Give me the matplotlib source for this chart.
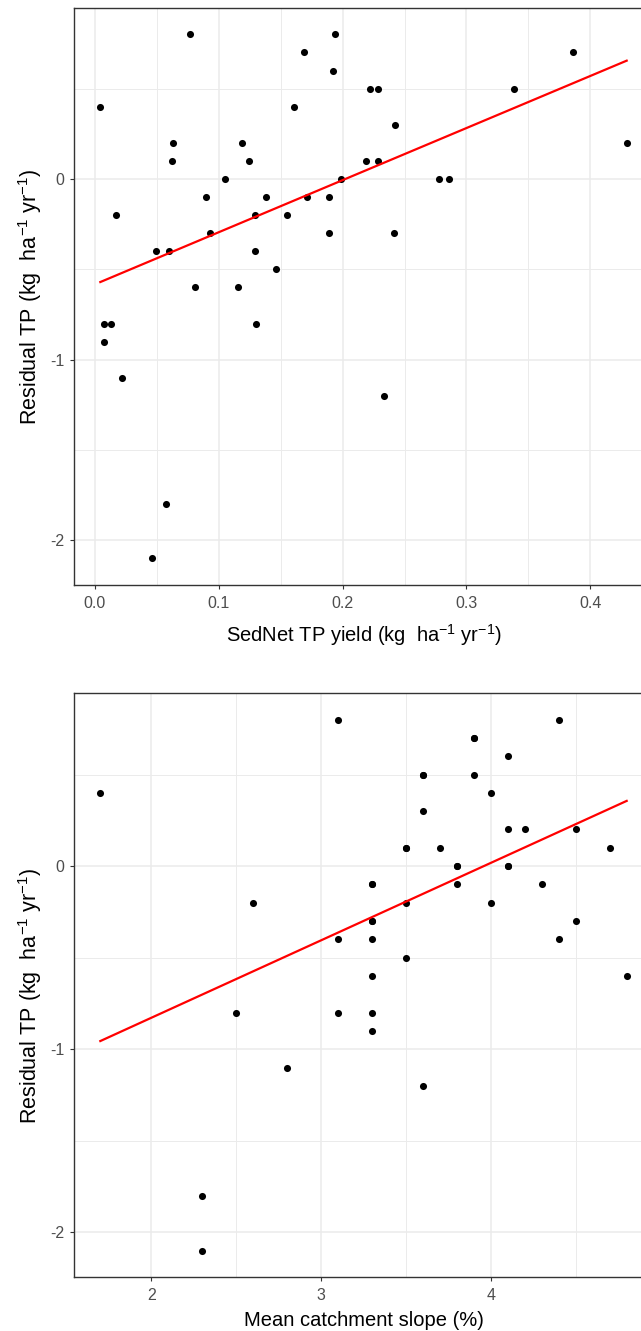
import matplotlib.pyplot as plt
import numpy as np

plt.rcParams['font.family'] = ['Liberation Sans', 'DejaVu Sans']
plt.rcParams['mathtext.fontset'] = 'custom'
plt.rcParams['mathtext.rm'] = 'Liberation Sans'
plt.rcParams['mathtext.it'] = 'Liberation Sans:italic'

# panel 1: SedNet TP yield vs residual TP
sednet_yield = [0.0767, 0.1937, 0.1686, 0.3864, 0.1924, 0.2221, 0.2288, 0.3388,
                0.0043, 0.1607, 0.2423, 0.0632, 0.1190, 0.4294, 0.0622, 0.1243,
                0.2188, 0.2288, 0.1051, 0.1990, 0.2777, 0.2856, 0.0896, 0.1382,
                0.1709, 0.1891, 0.0169, 0.1289, 0.1551, 0.0929, 0.1891, 0.2413,
                0.0493, 0.0595, 0.1289, 0.1461, 0.0804, 0.1154, 0.0076, 0.0129,
                0.1302, 0.0076, 0.0222, 0.2334, 0.0575, 0.0463]
resid_top = [0.8, 0.8, 0.7, 0.7, 0.6, 0.5, 0.5, 0.5,
             0.4, 0.4, 0.3, 0.2, 0.2, 0.2, 0.1, 0.1,
             0.1, 0.1, 0.0, 0.0, 0.0, 0.0, -0.1, -0.1,
             -0.1, -0.1, -0.2, -0.2, -0.2, -0.3, -0.3, -0.3,
             -0.4, -0.4, -0.4, -0.5, -0.6, -0.6, -0.8, -0.8,
             -0.8, -0.9, -1.1, -1.2, -1.8, -2.1]

# panel 2: mean catchment slope vs residual TP
slope = [1.7, 3.1, 4.4, 3.9, 4.1, 3.6, 3.9, 4.0, 3.6, 4.1, 4.2, 4.5, 3.5, 3.7,
         4.7, 3.8, 4.1, 3.3, 3.8, 4.3, 2.6, 3.5, 4.0, 3.3, 4.5, 3.1, 3.3, 4.4,
         3.5, 3.3, 4.8, 2.5, 3.1, 3.3, 3.3, 2.8, 3.6, 2.3, 2.3,
         3.9, 3.6, 3.5, 3.8, 4.1, 3.3, 3.3]
resid_bot = [0.4, 0.8, 0.8, 0.7, 0.6, 0.5, 0.5, 0.4, 0.3, 0.2, 0.2, 0.2, 0.1, 0.1,
             0.1, 0.0, 0.0, -0.1, -0.1, -0.1, -0.2, -0.2, -0.2, -0.3, -0.3, -0.4, -0.4, -0.4,
             -0.5, -0.6, -0.6, -0.8, -0.8, -0.8, -0.9, -1.1, -1.2, -1.8, -2.1,
             0.7, 0.5, 0.1, 0.0, 0.0, -0.1, -0.3]

W, H = 641, 1331
fig = plt.figure(figsize=(W / 100, H / 100), dpi=100)
ax1 = fig.add_axes([74 / W, 1 - 584.7 / H, 579 / W, 576.5 / H])
ax2 = fig.add_axes([74 / W, 1 - 1277.3 / H, 579 / W, 584.3 / H])


def panel(ax, x, y, xticks, xminor, xfmt, xlabel, xlab_y, ylab_y):
    x = np.array(x)
    y = np.array(y)
    for v in xminor:
        ax.axvline(v, color='#EBEBEB', lw=0.7, zorder=0)
    for v in [-1.5, -0.5, 0.5]:
        ax.axhline(v, color='#EBEBEB', lw=0.7, zorder=0)
    for v in xticks:
        ax.axvline(v, color='#EBEBEB', lw=1.1, zorder=0)
    for v in [-2, -1, 0]:
        ax.axhline(v, color='#EBEBEB', lw=1.1, zorder=0)
    ax.scatter(x, y, s=26, color='black', zorder=3, linewidths=0)
    b, a = np.polyfit(x, y, 1)
    xx = np.linspace(x.min(), x.max(), 100)
    ax.plot(xx, a + b * xx, color='red', lw=1.6, zorder=4)
    xr = x.max() - x.min()
    ax.set_xlim(x.min() - 0.05 * xr, x.max() + 0.05 * xr)
    ax.set_ylim(-2.245, 0.945)
    ax.set_xticks(xticks)
    ax.set_xticklabels([xfmt.format(v) for v in xticks])
    ax.set_yticks([-2, -1, 0])
    ax.set_yticklabels(['-2', '-1', '0'])
    ax.tick_params(colors='#333333', labelcolor='#4D4D4D', labelsize=11.5,
                   length=3, width=0.8)
    ax.tick_params(axis='x', pad=5)
    ax.tick_params(axis='y', pad=4)
    for s in ax.spines.values():
        s.set_color('#333333')
        s.set_linewidth(1.0)
    ax.set_xlabel(xlabel, fontsize=14.5, va='center')
    ax.xaxis.set_label_coords(0.5, xlab_y)
    ax.set_ylabel(r'Residual TP (kg  ha$^{-1}$ yr$^{-1}$)', fontsize=15.5, va='center')
    ax.yaxis.set_label_coords(-0.0765, ylab_y)


panel(ax1, sednet_yield, resid_top, [0.0, 0.1, 0.2, 0.3, 0.4],
      [0.05, 0.15, 0.25, 0.35, 0.45], '{:.1f}',
      r'SedNet TP yield (kg  ha$^{-1}$ yr$^{-1}$)', -0.0873, 0.5)
panel(ax2, slope, resid_bot, [2, 3, 4], [2.5, 3.5, 4.5], '{:d}',
      'Mean catchment slope (%)', -0.0731, 0.481)

fig.savefig('out.png', dpi=100)
